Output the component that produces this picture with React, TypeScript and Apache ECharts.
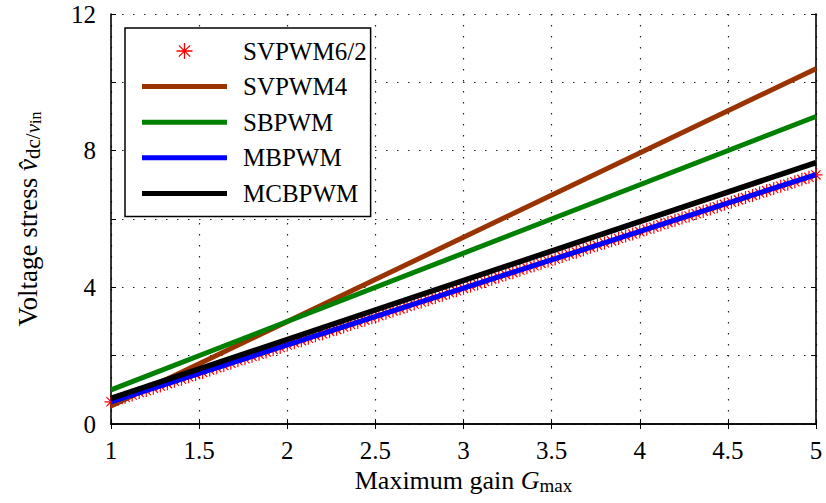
import React, { useEffect, useRef } from 'react';
import * as echarts from 'echarts';

// ---- data ----
const gainEnds = [1, 5];
const svpwm4 = [0.53, 10.4];
const sbpwm = [1.0, 9.0];
const mbpwm = [0.65, 7.3];
const mcbpwm = [0.75, 7.65];

const svpwm62Gain = [
  1, 1.04, 1.08, 1.12, 1.16, 1.2, 1.24, 1.28, 1.32, 1.36, 1.4, 1.44, 1.48, 1.52, 1.56, 1.6, 1.64, 1.68, 1.72, 1.76, 1.8, 1.84, 1.88, 1.92, 1.96,
  2, 2.04, 2.08, 2.12, 2.16, 2.2, 2.24, 2.28, 2.32, 2.36, 2.4, 2.44, 2.48, 2.52, 2.56, 2.6, 2.64, 2.68, 2.72, 2.76, 2.8, 2.84, 2.88, 2.92, 2.96,
  3, 3.04, 3.08, 3.12, 3.16, 3.2, 3.24, 3.28, 3.32, 3.36, 3.4, 3.44, 3.48, 3.52, 3.56, 3.6, 3.64, 3.68, 3.72, 3.76, 3.8, 3.84, 3.88, 3.92, 3.96,
  4, 4.04, 4.08, 4.12, 4.16, 4.2, 4.24, 4.28, 4.32, 4.36, 4.4, 4.44, 4.48, 4.52, 4.56, 4.6, 4.64, 4.68, 4.72, 4.76, 4.8, 4.84, 4.88, 4.92, 4.96,
  5,
];
const svpwm62 = [
  0.65, 0.72, 0.78, 0.85, 0.92, 0.98, 1.05, 1.11, 1.18, 1.25, 1.31, 1.38, 1.45, 1.51, 1.58, 1.65, 1.71, 1.78, 1.85, 1.91, 1.98, 2.04, 2.11, 2.18, 2.24,
  2.31, 2.38, 2.44, 2.51, 2.58, 2.64, 2.71, 2.77, 2.84, 2.91, 2.97, 3.04, 3.11, 3.17, 3.24, 3.31, 3.37, 3.44, 3.51, 3.57, 3.64, 3.7, 3.77, 3.84, 3.9,
  3.97, 4.04, 4.1, 4.17, 4.24, 4.3, 4.37, 4.43, 4.5, 4.57, 4.63, 4.7, 4.77, 4.83, 4.9, 4.97, 5.03, 5.1, 5.17, 5.23, 5.3, 5.36, 5.43, 5.5, 5.56,
  5.63, 5.7, 5.76, 5.83, 5.9, 5.96, 6.03, 6.09, 6.16, 6.23, 6.29, 6.36, 6.43, 6.49, 6.56, 6.63, 6.69, 6.76, 6.83, 6.89, 6.96, 7.02, 7.09, 7.16, 7.22,
  7.29,
];

const yLabelValues = [0, 4, 8, 12];
const seriesNames = ['SVPWM6/2', 'SVPWM4', 'SBPWM', 'MBPWM', 'MCBPWM'];

const FONT = 'Liberation Serif';
const ASTERISK = 'path://M6 0V12M0 6H12M1.76 1.76L10.24 10.24M10.24 1.76L1.76 10.24';
const BAR_ICON = 'path://M0 0H85V5H0Z';

export default function App() {
  const ref = useRef<HTMLDivElement>(null);

  useEffect(() => {
    if (!ref.current) return;
    const chart = echarts.init(ref.current, null, { renderer: 'svg' });

    const pairs = (xs: number[], ys: number[]) => xs.map((x, i) => [x, ys[i]]);

    const axisLine = { show: true, lineStyle: { color: '#000', width: 1.6 } };
    const tick = { show: true, inside: true, length: 5, lineStyle: { color: '#000', width: 1 } };
    const dotted = { show: true, lineStyle: { color: '#222', width: 1.2, type: [1.5, 9.5] as any } };

    const option: any = {
      animation: false,
      backgroundColor: '#fff',
      textStyle: { fontFamily: FONT },
      grid: { left: 111, right: 10, top: 14, bottom: 79, containLabel: false },
      xAxis: [
        {
          type: 'value', min: 1, max: 5, interval: 0.5, position: 'bottom',
          axisLine, axisTick: tick, splitLine: dotted,
          axisLabel: { color: '#000', fontFamily: FONT, fontSize: 25, margin: 14 },
          name: '{a|Maximum gain }{b|G}{c|max}',
          nameLocation: 'middle', nameGap: 35,
          nameTextStyle: {
            rich: {
              a: { fontFamily: FONT, fontSize: 26, color: '#000', lineHeight: 28 },
              b: { fontFamily: FONT, fontSize: 26, fontStyle: 'italic', color: '#000', lineHeight: 28 },
              c: { fontFamily: FONT, fontSize: 19, color: '#000', verticalAlign: 'bottom', lineHeight: 14 },
            },
          },
        },
        {
          type: 'value', min: 1, max: 5, interval: 0.5, position: 'top',
          axisLine, axisTick: tick, axisLabel: { show: false }, splitLine: { show: false },
        },
      ],
      yAxis: [
        {
          type: 'value', min: 0, max: 12, interval: 2, position: 'left',
          axisLine, axisTick: tick, splitLine: dotted,
          axisLabel: {
            color: '#000', fontFamily: FONT, fontSize: 25, margin: 15,
            formatter: (v: number) => (yLabelValues.includes(v) ? String(v) : ''),
          },
          name: '{a|Voltage stress }{b|v̂}{c|dc/}{d|v}{e|in}',
          nameLocation: 'middle', nameGap: 68,
          nameTextStyle: {
            rich: {
              a: { fontFamily: FONT, fontSize: 27, color: '#000', lineHeight: 30 },
              b: { fontFamily: FONT, fontSize: 27, fontStyle: 'italic', color: '#000', lineHeight: 30 },
              c: { fontFamily: FONT, fontSize: 21, color: '#000', verticalAlign: 'bottom', lineHeight: 16 },
              d: { fontFamily: FONT, fontSize: 21, fontStyle: 'italic', color: '#000', verticalAlign: 'bottom', lineHeight: 16 },
              e: { fontFamily: FONT, fontSize: 16, color: '#000', verticalAlign: 'bottom', lineHeight: 8 },
            },
          },
        },
        {
          type: 'value', min: 0, max: 12, interval: 2, position: 'right',
          axisLine, axisTick: tick, axisLabel: { show: false }, splitLine: { show: false },
        },
      ],
      legend: {
        orient: 'vertical', left: 125, top: 28,
        itemWidth: 85, itemHeight: 16, itemGap: 9.6,
        padding: [10, 4, 10, 17],
        borderColor: '#000', borderWidth: 1.5, backgroundColor: '#fff',
        selectedMode: false,
        textStyle: { fontFamily: FONT, fontSize: 25, color: '#000', lineHeight: 26, padding: [0, 0, 0, 11] },
        data: [
          { name: seriesNames[0], icon: ASTERISK, itemStyle: { color: '#ff0000', borderColor: '#ff0000', borderWidth: 1.3 } },
          { name: seriesNames[1], icon: BAR_ICON },
          { name: seriesNames[2], icon: BAR_ICON },
          { name: seriesNames[3], icon: BAR_ICON },
          { name: seriesNames[4], icon: BAR_ICON },
        ],
      },
      series: [
        {
          name: seriesNames[0], type: 'scatter', symbol: ASTERISK, symbolSize: 13,
          itemStyle: { color: '#ff0000', borderColor: '#ff0000', borderWidth: 1.2, opacity: 1 },
          data: pairs(svpwm62Gain, svpwm62), z: 2,
        },
        {
          name: seriesNames[1], type: 'line', symbol: 'none', color: '#993300',
          lineStyle: { color: '#993300', width: 5 }, data: pairs(gainEnds, svpwm4), z: 3,
        },
        {
          name: seriesNames[2], type: 'line', symbol: 'none', color: '#008000',
          lineStyle: { color: '#008000', width: 5 }, data: pairs(gainEnds, sbpwm), z: 3,
        },
        {
          name: seriesNames[3], type: 'line', symbol: 'none', color: '#0000ff',
          lineStyle: { color: '#0000ff', width: 5 }, data: pairs(gainEnds, mbpwm), z: 3,
        },
        {
          name: seriesNames[4], type: 'line', symbol: 'none', color: '#000000',
          lineStyle: { color: '#000000', width: 5.5 }, data: pairs(gainEnds, mcbpwm), z: 3,
        },
      ],
    };

    chart.setOption(option);
    return () => chart.dispose();
  }, []);

  return (
    <div
      ref={ref}
      style={{ position: 'absolute', left: 0, top: 0, width: 826, height: 503, background: '#fff' }}
    />
  );
}
